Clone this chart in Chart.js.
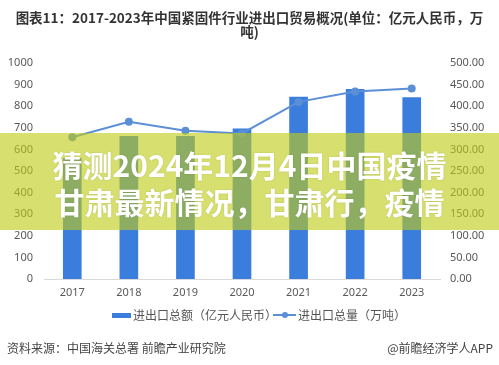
<!DOCTYPE html>
<html>
<head>
<meta charset="utf-8">
<script src="https://cdn.jsdelivr.net/npm/chart.js@4/dist/chart.umd.min.js"></script>
<style>
  body { margin: 0; background: #fff; }
  #wrap { position: relative; width: 499px; height: 365px; overflow: hidden; font-family: "Noto Sans CJK SC", "Noto Sans", sans-serif; }
  #chart { position: absolute; left: 0; top: 0; }
  .title { position: absolute; left: 0; width: 499px; text-align: center; font-weight: bold; font-size: 13.5px; color: #333; line-height: 14px; }
  .band { position: absolute; left: 0; top: 133px; width: 499px; height: 97px; background: rgba(190, 203, 22, 0.62); }
  .big { position: absolute; left: 0; width: 499px; text-align: center; color: #fff; font-weight: bold; font-size: 30px; line-height: 36px; text-shadow: 0 0 2px rgba(0,0,0,0.15); }
  .leg { position: absolute; font-size: 12px; color: #555; line-height: 14px; }
  .foot { position: absolute; font-size: 12px; color: #444; line-height: 14px; }
</style>
</head>
<body>
<div id="wrap">
  <canvas id="chart" width="499" height="365"></canvas>
  <div class="title" style="top:10px">图表11：2017-2023年中国紧固件行业进出口贸易概况(单位：亿元人民币，万</div>
  <div class="title" style="top:24px">吨)</div>
  <div class="band"></div>
  <div class="big" style="top:146px">猜测2024年12月4日中国疫情</div>
  <div class="big" style="top:183px">甘肃最新情况，甘肃行，疫情</div>
  <div class="leg" style="left:112px;top:313px;width:19px;height:5px;background:#3b7ddd"></div>
  <div class="leg" style="left:133px;top:308px">进出口总额（亿元人民币）</div>
  <div class="leg" style="left:273px;top:314px;width:23px;height:2px;background:#5b8fd6"></div>
  <div class="leg" style="left:282px;top:312px;width:6px;height:6px;border-radius:3px;background:#5b8fd6"></div>
  <div class="leg" style="left:298px;top:308px">进出口总量（万吨）</div>
  <div class="foot" style="left:7px;top:341px">资料来源：中国海关总署 前瞻产业研究院</div>
  <div class="foot" style="right:6px;top:341px">@前瞻经济学人APP</div>
</div>
<script>
// years on the x axis
const years = ['2017', '2018', '2019', '2020', '2021', '2022', '2023'];
// 进出口总额 (亿元人民币), left axis
const tradeValue = [560, 662, 662, 697, 844, 880, 841];
// 进出口总量 (万吨), right axis
const tradeVolume = [328, 364, 343, 337, 410, 434, 441];

const tickFont = { family: '"Noto Sans", "Noto Sans CJK SC", sans-serif', size: 11 };

new Chart(document.getElementById('chart').getContext('2d'), {
  data: {
    labels: years,
    datasets: [
      {
        type: 'line',
        label: '进出口总量（万吨）',
        data: tradeVolume,
        yAxisID: 'y1',
        borderColor: '#5b8fd6',
        backgroundColor: '#5b8fd6',
        borderWidth: 2,
        pointRadius: 3,
        tension: 0,
        order: 0
      },
      {
        type: 'bar',
        label: '进出口总额（亿元人民币）',
        data: tradeValue,
        yAxisID: 'y',
        backgroundColor: '#3b7ddd',
        barPercentage: 0.33,
        categoryPercentage: 1,
        order: 1
      }
    ]
  },
  options: {
    responsive: false,
    animation: false,
    layout: { padding: { top: 63, bottom: 0, left: 0, right: 0 } },
    plugins: { legend: { display: false }, title: { display: false }, tooltip: { enabled: false } },
    scales: {
      x: {
        grid: { display: false, drawTicks: false },
        border: { display: true, color: '#d9d9d9' },
        ticks: { color: '#595959', font: tickFont, padding: 7 },
        afterFit: s => { s.height = 86; }
      },
      y: {
        position: 'left',
        min: 0, max: 1000,
        grid: { display: false, drawTicks: false },
        border: { display: false },
        ticks: { stepSize: 100, color: '#595959', font: tickFont, padding: 11, callback: v => String(v) },
        afterFit: s => { s.width = 44; }
      },
      y1: {
        position: 'right',
        min: 0, max: 500,
        grid: { display: false, drawTicks: false },
        border: { display: false },
        ticks: { stepSize: 50, color: '#595959', font: tickFont, padding: 10, callback: v => v.toFixed(2) },
        afterFit: s => { s.width = 59; }
      }
    }
  }
});
</script>
</body>
</html>
